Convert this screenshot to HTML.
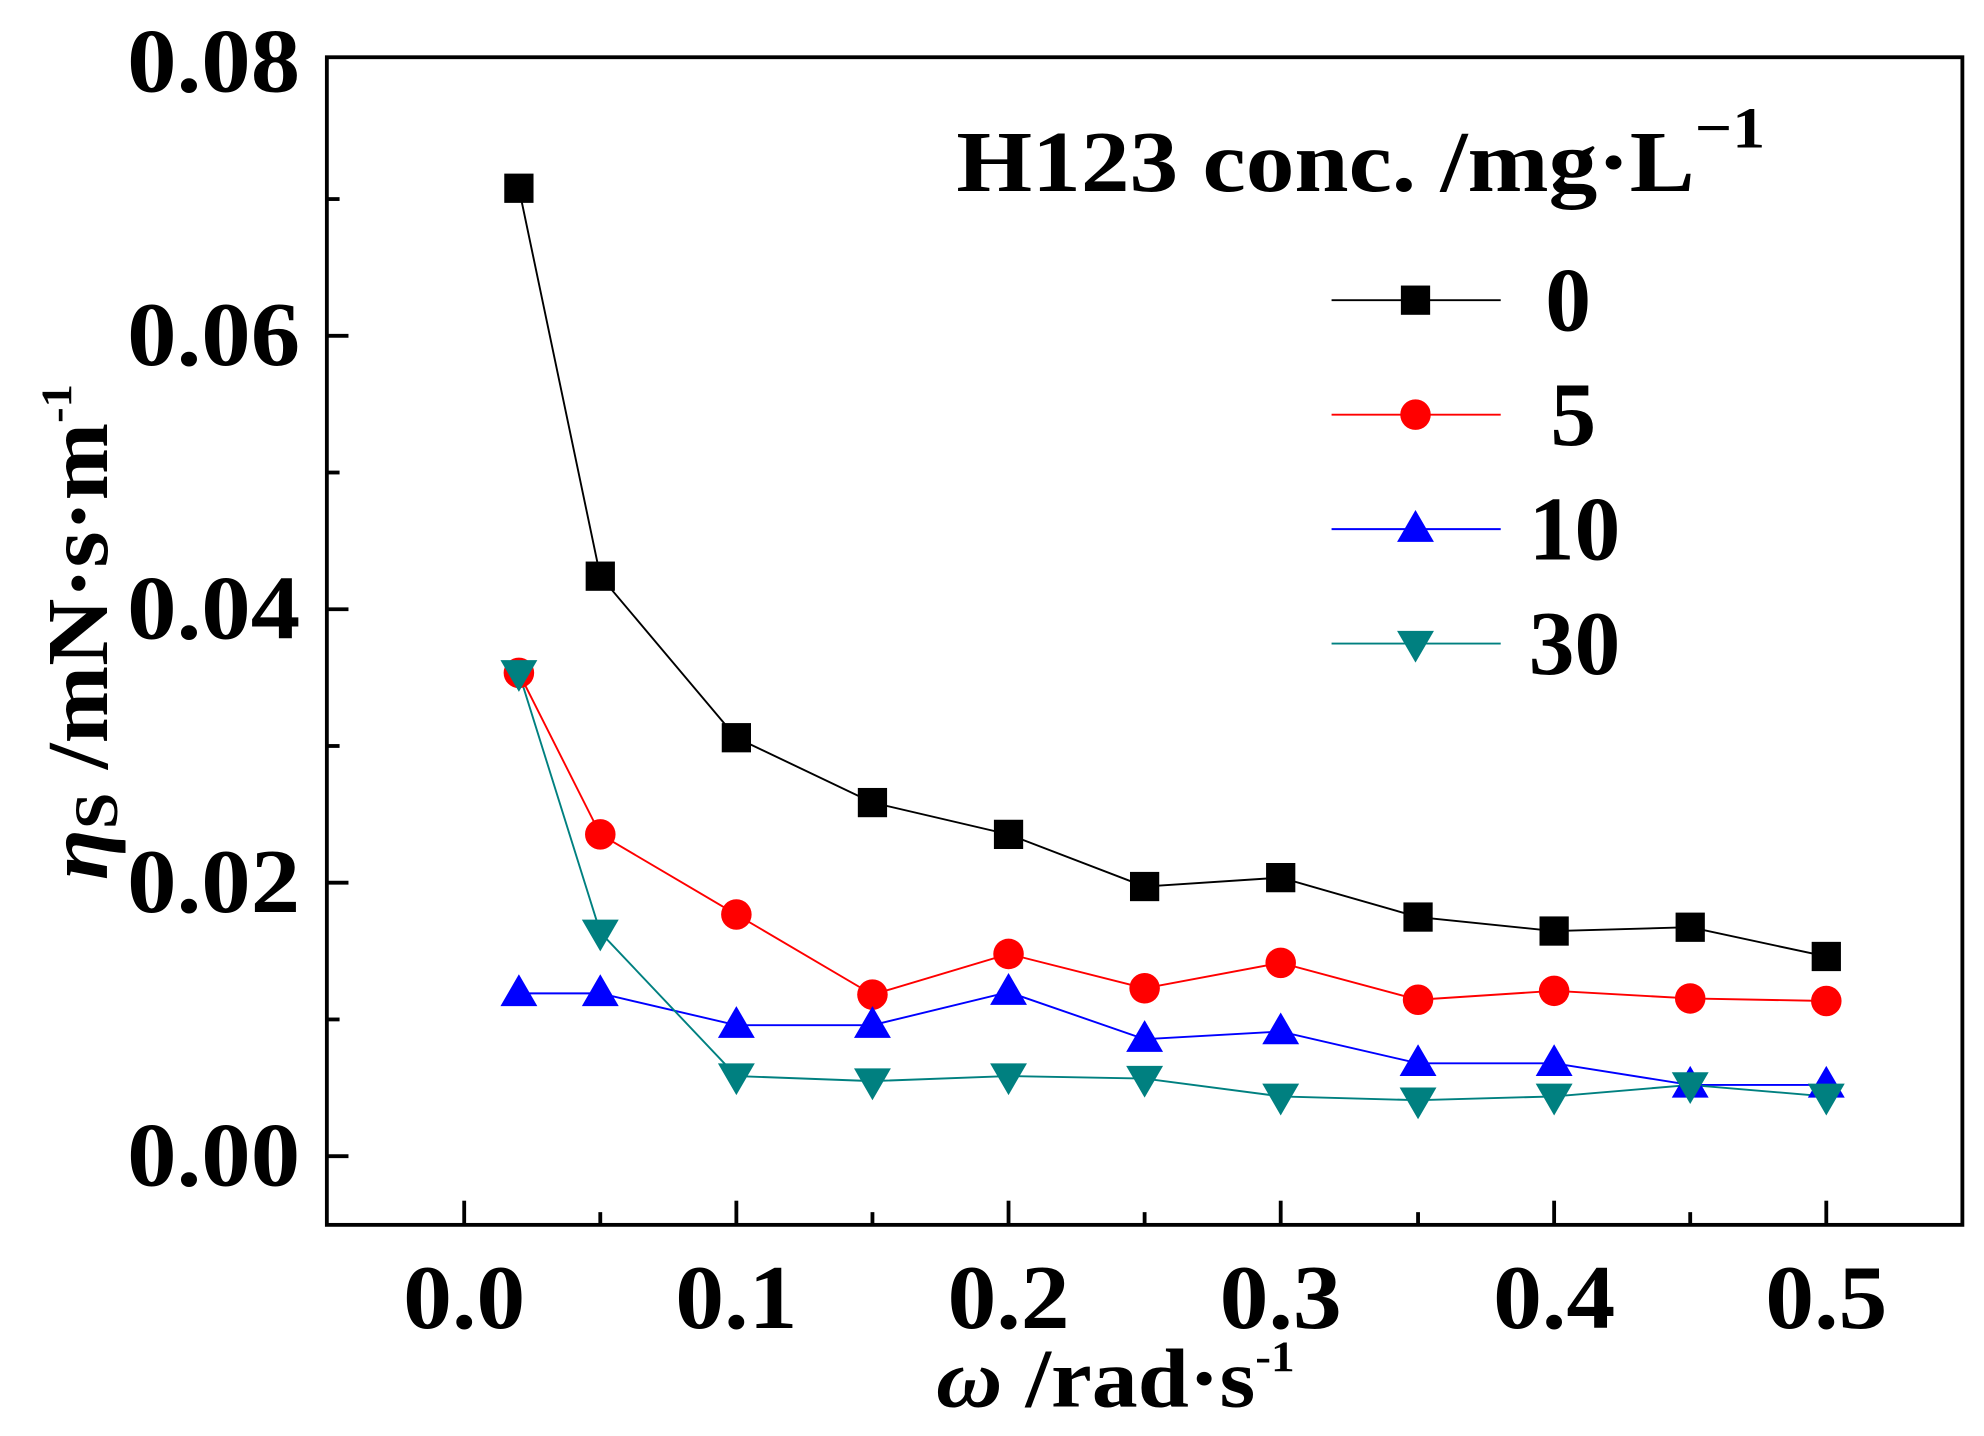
<!DOCTYPE html>
<html><head><meta charset="utf-8"><style>html,body{margin:0;padding:0;background:#fff}svg{display:block}</style></head>
<body>
<svg width="1984" height="1436" viewBox="0 0 1560 1129" preserveAspectRatio="none" xmlns="http://www.w3.org/2000/svg" font-family="'Liberation Serif',serif" font-weight="bold">
<defs>
<rect id="sq" x="-11.5" y="-11.5" width="23" height="23" fill="#000"/>
<circle id="ci" r="12" fill="#f00"/>
<polygon id="tu" points="0,-15 14.5,10 -14.5,10" fill="#00f"/>
<polygon id="td" points="0,15 14.5,-10 -14.5,-10" fill="#008080"/>
</defs>
<rect x="257" y="45" width="1286" height="918" fill="none" stroke="#000" stroke-width="3"/>
<g stroke="#000" stroke-width="3">
<line x1="257" y1="909" x2="274" y2="909"/><line x1="257" y1="801.5" x2="267" y2="801.5"/>
<line x1="257" y1="694" x2="274" y2="694"/><line x1="257" y1="586.5" x2="267" y2="586.5"/>
<line x1="257" y1="479" x2="274" y2="479"/><line x1="257" y1="371.5" x2="267" y2="371.5"/>
<line x1="257" y1="264" x2="274" y2="264"/><line x1="257" y1="156.5" x2="267" y2="156.5"/>
<line x1="365" y1="963" x2="365" y2="944"/><line x1="472" y1="963" x2="472" y2="953"/>
<line x1="579" y1="963" x2="579" y2="944"/><line x1="686" y1="963" x2="686" y2="953"/>
<line x1="793" y1="963" x2="793" y2="944"/><line x1="900" y1="963" x2="900" y2="953"/>
<line x1="1007" y1="963" x2="1007" y2="944"/><line x1="1115" y1="963" x2="1115" y2="953"/>
<line x1="1222" y1="963" x2="1222" y2="944"/><line x1="1329" y1="963" x2="1329" y2="953"/>
<line x1="1436" y1="963" x2="1436" y2="944"/>
</g>
<g font-size="72" text-anchor="end">
<text x="236" y="72" textLength="136" lengthAdjust="spacingAndGlyphs">0.08</text>
<text x="236" y="287" textLength="136" lengthAdjust="spacingAndGlyphs">0.06</text>
<text x="236" y="502" textLength="136" lengthAdjust="spacingAndGlyphs">0.04</text>
<text x="236" y="717" textLength="136" lengthAdjust="spacingAndGlyphs">0.02</text>
<text x="236" y="932" textLength="136" lengthAdjust="spacingAndGlyphs">0.00</text>
</g>
<g font-size="72" text-anchor="middle">
<text x="365" y="1044" textLength="96" lengthAdjust="spacingAndGlyphs">0.0</text>
<text x="579" y="1044" textLength="96" lengthAdjust="spacingAndGlyphs">0.1</text>
<text x="793" y="1044" textLength="96" lengthAdjust="spacingAndGlyphs">0.2</text>
<text x="1007" y="1044" textLength="96" lengthAdjust="spacingAndGlyphs">0.3</text>
<text x="1222" y="1044" textLength="96" lengthAdjust="spacingAndGlyphs">0.4</text>
<text x="1436" y="1044" textLength="96" lengthAdjust="spacingAndGlyphs">0.5</text>
</g>
<text x="736" y="1106" font-size="66" textLength="282" lengthAdjust="spacingAndGlyphs"><tspan font-style="italic">ω</tspan> /rad·s<tspan font-size="34" dy="-28">-1</tspan></text>
<text transform="translate(84,692) rotate(-90)" font-size="68" textLength="390" lengthAdjust="spacingAndGlyphs"><tspan font-style="italic">η</tspan><tspan font-size="48" dy="8">S</tspan><tspan dy="-8"> /mN·s·m</tspan><tspan font-size="34" dy="-28">-1</tspan></text>
<text x="752" y="150" font-size="68" textLength="636" lengthAdjust="spacingAndGlyphs">H123 conc. /mg·L<tspan font-size="46" dy="-34">−1</tspan></text>
<polyline fill="none" stroke="#000" stroke-width="1.5" points="408,148 472,453 579,580 686,631 793,656 900,697 1007,690 1115,721 1222,732 1329,729 1436,752"/>
<polyline fill="none" stroke="#f00" stroke-width="1.5" points="408,529 472,656 579,719 686,782 793,750 900,777 1007,757 1115,786 1222,779 1329,785 1436,787"/>
<polyline fill="none" stroke="#00f" stroke-width="1.5" points="408,781 472,781 579,806 686,806 793,780 900,817 1007,811 1115,836 1222,836 1329,853 1436,853"/>
<polyline fill="none" stroke="#008080" stroke-width="1.5" points="408,529 472,733 579,846 686,850 793,846 900,848 1007,862 1115,865 1222,862 1329,853 1436,862"/>
<g>
<use href="#sq" x="408" y="148"/><use href="#sq" x="472" y="453"/><use href="#sq" x="579" y="580"/><use href="#sq" x="686" y="631"/><use href="#sq" x="793" y="656"/><use href="#sq" x="900" y="697"/><use href="#sq" x="1007" y="690"/><use href="#sq" x="1115" y="721"/><use href="#sq" x="1222" y="732"/><use href="#sq" x="1329" y="729"/><use href="#sq" x="1436" y="752"/>
<use href="#ci" x="408" y="529"/><use href="#ci" x="472" y="656"/><use href="#ci" x="579" y="719"/><use href="#ci" x="686" y="782"/><use href="#ci" x="793" y="750"/><use href="#ci" x="900" y="777"/><use href="#ci" x="1007" y="757"/><use href="#ci" x="1115" y="786"/><use href="#ci" x="1222" y="779"/><use href="#ci" x="1329" y="785"/><use href="#ci" x="1436" y="787"/>
<use href="#tu" x="408" y="781"/><use href="#tu" x="472" y="781"/><use href="#tu" x="579" y="806"/><use href="#tu" x="686" y="806"/><use href="#tu" x="793" y="780"/><use href="#tu" x="900" y="817"/><use href="#tu" x="1007" y="811"/><use href="#tu" x="1115" y="836"/><use href="#tu" x="1222" y="836"/><use href="#tu" x="1329" y="853"/><use href="#tu" x="1436" y="853"/>
<use href="#td" x="408" y="529"/><use href="#td" x="472" y="733"/><use href="#td" x="579" y="846"/><use href="#td" x="686" y="850"/><use href="#td" x="793" y="846"/><use href="#td" x="900" y="848"/><use href="#td" x="1007" y="862"/><use href="#td" x="1115" y="865"/><use href="#td" x="1222" y="862"/><use href="#td" x="1329" y="853"/><use href="#td" x="1436" y="862"/>
</g>
<g stroke-width="1.5">
<line x1="1047" y1="236" x2="1180" y2="236" stroke="#000"/><use href="#sq" x="1113" y="236"/>
<line x1="1047" y1="326" x2="1180" y2="326" stroke="#f00"/><use href="#ci" x="1113" y="326"/>
<line x1="1047" y1="416" x2="1180" y2="416" stroke="#00f"/><use href="#tu" x="1113" y="416"/>
<line x1="1047" y1="506" x2="1180" y2="506" stroke="#008080"/><use href="#td" x="1113" y="506"/>
</g>
<g font-size="72" text-anchor="middle">
<text x="1233" y="260">0</text><text x="1237" y="350">5</text><text x="1238" y="440">10</text><text x="1238" y="530">30</text>
</g>
</svg>
</body></html>
